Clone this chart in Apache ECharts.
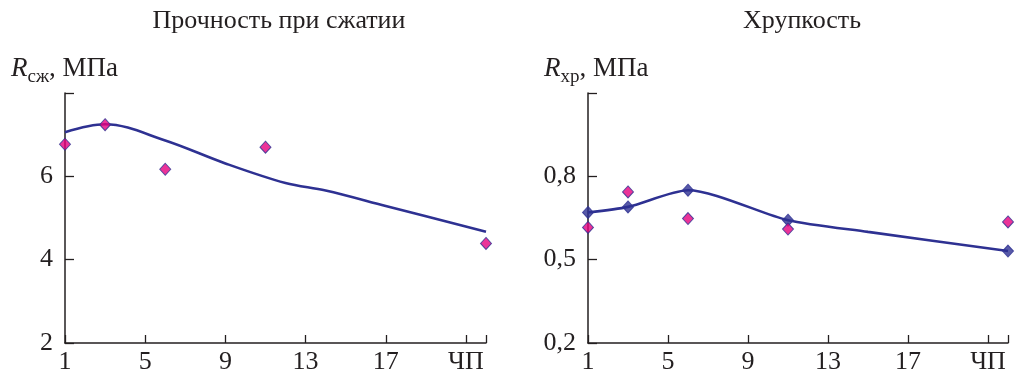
<!DOCTYPE html>
<html><head><meta charset="utf-8">
<script src="https://cdn.jsdelivr.net/npm/echarts@6/dist/echarts.min.js"></script>
<style>html,body{margin:0;padding:0;background:#fff}#c{width:1017px;height:381px}</style>
</head><body><div id="c"></div>
<script>
// ---- data ----
const leftTitle = 'Прочность при сжатии';
const rightTitle = 'Хрупкость';
const xTickLabels = ['1', '5', '9', '13', '17', 'ЧП'];   // ticks at sample numbers 1,5,9,13,17,21
const sampleX = [1, 3, 6, 11, 22];                      // 22 = ЧП
const strengthPoints = [6.77, 7.24, 6.17, 6.70, 4.39];
const strengthCurveX = [1, 3, 6, 9, 12, 14, 17, 22];
const strengthCurveY = [7.06, 7.25, 6.86, 6.31, 5.84, 5.66, 5.29, 4.67];
const brittlePoints = [0.616, 0.744, 0.648, 0.610, 0.636];
const brittleFitPoints = [0.670, 0.690, 0.750, 0.642, 0.531];
const brittleCurveX = [1, 3, 6, 11, 15, 22];
const brittleCurveY = [0.670, 0.690, 0.750, 0.642, 0.600, 0.531];
const leftYTicks = ['2', '4', '6'];
const rightYTicks = ['0,2', '0,5', '0,8'];

// ---- styling ----
const FONT = "'Liberation Serif', 'Times New Roman', serif";
const INK = '#231f20';
const BLUE = '#2e3192';
const MAGENTA = '#e6007e';
const Y_OFF = 0.2; // right axis drawn from 0 so ticks start at 0.2

const chart = echarts.init(document.getElementById('c'));

function xAxisCfg(gi) {
  return {
    type: 'value', gridIndex: gi, min: 0, max: 21, interval: 4,
    axisLine: { lineStyle: { color: INK, width: 1.5 } },
    axisTick: { show: true, inside: true, length: 8, lineStyle: { color: INK, width: 1.3 } },
    splitLine: { show: false },
    axisLabel: {
      color: INK, fontFamily: FONT, fontSize: 26, margin: 6, showMaxLabel: true,
      formatter: v => { const i = Math.round(v / 4); return (v % 4 === 0 && i < xTickLabels.length) ? xTickLabels[i] : ''; }
    }
  };
}
function yAxisCfg(gi, min, max, interval, labels) {
  return {
    type: 'value', gridIndex: gi, min: min, max: max, interval: interval,
    axisLine: { show: true, lineStyle: { color: INK, width: 1.5 } },
    axisTick: { show: true, inside: true, length: 9, lineStyle: { color: INK, width: 1.3 } },
    splitLine: { show: false },
    axisLabel: {
      color: INK, fontFamily: FONT, fontSize: 26, margin: 12, showMaxLabel: true,
      formatter: v => { const i = Math.round((v - min) / interval); return i < labels.length ? labels[i] : ''; }
    }
  };
}
const diamond = (fill) => ({ symbol: 'diamond', symbolSize: [11, 12], itemStyle: { color: fill, borderColor: BLUE, borderWidth: 1 } });
const nameRich = {
  r: { fontFamily: FONT, fontStyle: 'italic', fontSize: 27, fill: INK, verticalAlign: 'bottom' },
  s: { fontFamily: FONT, fontSize: 19, fill: INK, verticalAlign: 'bottom', padding: [0, 0, -5, 0] },
  n: { fontFamily: FONT, fontSize: 27, fill: INK, verticalAlign: 'bottom' }
};

chart.setOption({
  backgroundColor: '#fff',
  animation: false,
  title: [
    { text: leftTitle, left: 274, top: 3, textAlign: 'center', textStyle: { fontFamily: FONT, fontSize: 26, fontWeight: 'normal', color: INK } },
    { text: rightTitle, left: 797, top: 3, textAlign: 'center', textStyle: { fontFamily: FONT, fontSize: 26, fontWeight: 'normal', color: INK } }
  ],
  graphic: [
    { type: 'text', left: 11, top: 55, style: { text: '{r|R}{s|сж}{n|, МПа}', rich: nameRich } },
    { type: 'text', left: 544, top: 55, style: { text: '{r|R}{s|хр}{n|, МПа}', rich: nameRich } }
  ],
  grid: [
    { left: 65, top: 93, width: 421, height: 250 },
    { left: 588, top: 93, width: 420, height: 250 }
  ],
  xAxis: [xAxisCfg(0), xAxisCfg(1)],
  yAxis: [yAxisCfg(0, 2, 8, 2, leftYTicks), yAxisCfg(1, 0, 0.9, 0.3, rightYTicks)],
  series: [
    { type: 'line', xAxisIndex: 0, yAxisIndex: 0, smooth: 0.35, showSymbol: false, symbol: 'none',
      lineStyle: { color: BLUE, width: 2.6 },
      data: strengthCurveX.map((x, i) => [x - 1, strengthCurveY[i]]) },
    Object.assign({ type: 'scatter', xAxisIndex: 0, yAxisIndex: 0, z: 5,
      data: sampleX.map((x, i) => [x - 1, strengthPoints[i]]) }, diamond(MAGENTA)),
    { type: 'line', xAxisIndex: 1, yAxisIndex: 1, smooth: 0.25, showSymbol: false, symbol: 'none',
      lineStyle: { color: BLUE, width: 2.6 },
      data: brittleCurveX.map((x, i) => [x - 1, brittleCurveY[i] - Y_OFF]) },
    Object.assign({ type: 'scatter', xAxisIndex: 1, yAxisIndex: 1, z: 4,
      data: sampleX.map((x, i) => [x - 1, brittleFitPoints[i] - Y_OFF]) }, diamond(BLUE)),
    Object.assign({ type: 'scatter', xAxisIndex: 1, yAxisIndex: 1, z: 5,
      data: sampleX.map((x, i) => [x - 1, brittlePoints[i] - Y_OFF]) }, diamond(MAGENTA))
  ]
});
</script></body></html>
